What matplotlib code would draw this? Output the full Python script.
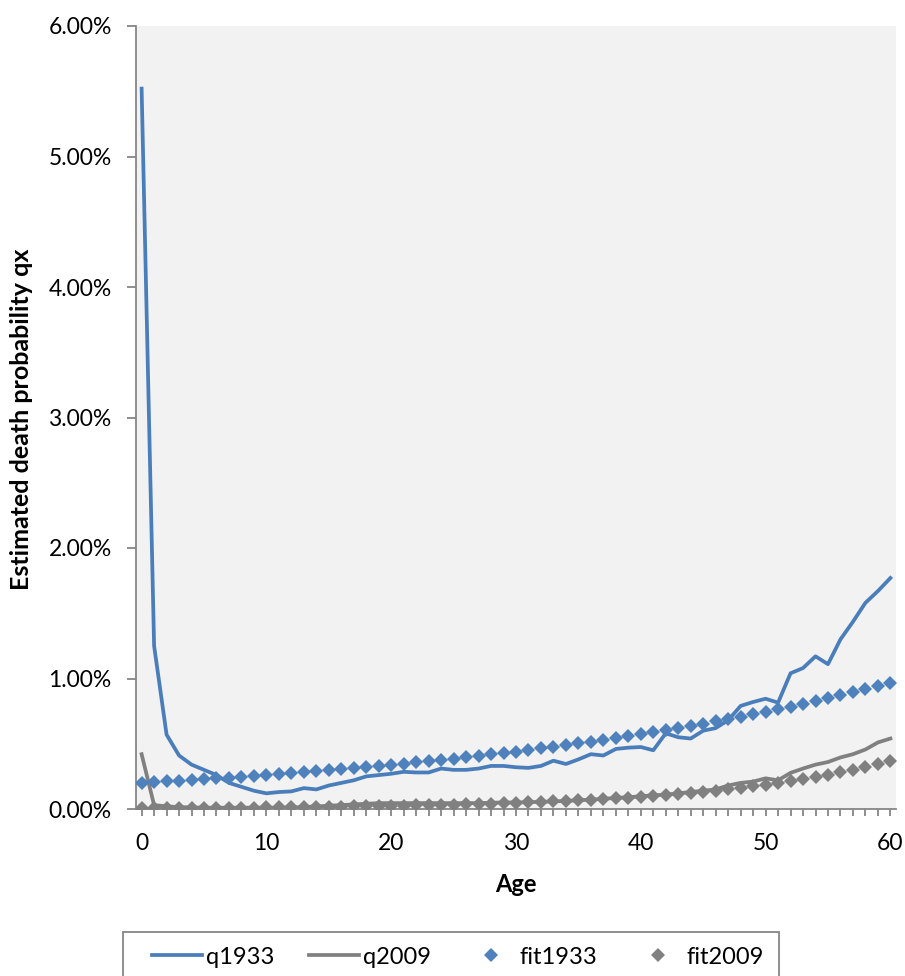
import matplotlib
matplotlib.use("Agg")
import matplotlib.pyplot as plt
from matplotlib.ticker import PercentFormatter, MultipleLocator, FuncFormatter
from matplotlib.lines import Line2D
from matplotlib.patches import Rectangle

plt.rcParams['font.family'] = ['Lato', 'DejaVu Sans']

ages = list(range(61))

q1933 = [5.52, 1.25, 0.57, 0.41, 0.34, 0.30, 0.26, 0.20, 0.17, 0.14,
         0.12, 0.13, 0.135, 0.16, 0.15, 0.18, 0.20, 0.22, 0.25, 0.26,
         0.27, 0.285, 0.28, 0.28, 0.31, 0.30, 0.30, 0.31, 0.33, 0.33,
         0.32, 0.315, 0.33, 0.37, 0.345, 0.38, 0.42, 0.41, 0.46, 0.47,
         0.475, 0.45, 0.58, 0.55, 0.54, 0.60, 0.62, 0.68, 0.79, 0.82,
         0.845, 0.815, 1.04, 1.08, 1.17, 1.11, 1.30, 1.435, 1.58, 1.67,
         1.77]

q2009 = [0.42, 0.03, 0.02, 0.015, 0.012, 0.010, 0.010, 0.010, 0.010, 0.010,
         0.010, 0.010, 0.012, 0.015, 0.020, 0.025, 0.030, 0.035, 0.040, 0.045,
         0.045, 0.045, 0.045, 0.045, 0.045, 0.045, 0.045, 0.045, 0.048, 0.050,
         0.050, 0.052, 0.055, 0.058, 0.062, 0.067, 0.072, 0.078, 0.085, 0.090,
         0.098, 0.105, 0.110, 0.120, 0.130, 0.140, 0.150, 0.180, 0.200, 0.210,
         0.235, 0.220, 0.277, 0.310, 0.340, 0.360, 0.395, 0.420, 0.456, 0.510,
         0.540]

fit1933 = [0.200, 0.205, 0.211, 0.216, 0.222, 0.228, 0.234, 0.240, 0.247, 0.253,
           0.260, 0.267, 0.274, 0.282, 0.289, 0.297, 0.305, 0.313, 0.321, 0.330,
           0.338, 0.347, 0.357, 0.366, 0.376, 0.386, 0.396, 0.407, 0.418, 0.429,
           0.440, 0.452, 0.464, 0.476, 0.489, 0.502, 0.515, 0.529, 0.543, 0.558,
           0.573, 0.588, 0.604, 0.620, 0.636, 0.653, 0.671, 0.688, 0.707, 0.726,
           0.745, 0.765, 0.785, 0.806, 0.828, 0.850, 0.872, 0.896, 0.919, 0.944,
           0.969]

fit2009 = [0.0060, 0.0064, 0.0069, 0.0074, 0.0079, 0.0085, 0.0091, 0.0097, 0.0104, 0.0111,
           0.0119, 0.0128, 0.0137, 0.0147, 0.0157, 0.0168, 0.0180, 0.0193, 0.0207, 0.0221,
           0.0237, 0.0254, 0.0272, 0.0291, 0.0312, 0.0334, 0.0358, 0.0384, 0.0411, 0.0440,
           0.0471, 0.0505, 0.0541, 0.0579, 0.0620, 0.0665, 0.0712, 0.0763, 0.0817, 0.0875,
           0.0937, 0.1004, 0.1075, 0.1152, 0.1234, 0.1321, 0.1415, 0.1516, 0.1624, 0.1739,
           0.1863, 0.1995, 0.2137, 0.2289, 0.2452, 0.2627, 0.2813, 0.3014, 0.3228, 0.3458,
           0.3703]

series_names = ['q1933', 'q2009', 'fit1933', 'fit2009']
x_label = 'Age'
y_label = 'Estimated death probability qx'

W, H = 905, 976
fig = plt.figure(figsize=(W / 100, H / 100), dpi=100)
ax = fig.add_axes([136 / W, 1 - 809 / H, 760 / W, 783 / H])
ax.set_facecolor('#F2F2F2')

blue_line = '#4A7EBB'
blue_mark = '#4F81BD'
gray = '#808080'
spine_c = '#868686'
LW = 2.7
MS = 6.8

ax.plot(ages, q1933, color=blue_line, lw=LW, solid_joinstyle='round', zorder=2)
ax.plot(ages, q2009, color=gray, lw=LW, solid_joinstyle='round', zorder=2)
ax.plot(ages, fit1933, ls='none', marker='D', ms=MS, color=blue_mark, mec=blue_mark, mew=0, zorder=3)
ax.plot(ages, fit2009, ls='none', marker='D', ms=MS, color=gray, mec=gray, mew=0, zorder=3)

ax.set_xlim(-0.45, 60.45)
ax.set_ylim(0, 6)
ax.yaxis.set_major_locator(MultipleLocator(1))
ax.yaxis.set_major_formatter(PercentFormatter(xmax=100, decimals=2))
ax.xaxis.set_major_locator(MultipleLocator(1))
ax.xaxis.set_major_formatter(FuncFormatter(lambda v, p: f"{int(round(v))}" if int(round(v)) % 10 == 0 else ""))

for s in ['top', 'right']:
    ax.spines[s].set_visible(False)
for s in ['left', 'bottom']:
    ax.spines[s].set_color(spine_c)
    ax.spines[s].set_linewidth(1.3)

ax.tick_params(axis='y', direction='out', length=6.5, width=1.3, color=spine_c,
               labelsize=16.5, pad=11, labelcolor='black')
ax.tick_params(axis='x', direction='out', length=5, width=1.3, color=spine_c,
               labelsize=16.5, pad=12, labelcolor='black')

fig.text(516 / W, 1 - 885 / H, x_label, ha='center', va='center',
         fontsize=17, fontweight='bold')
fig.text(22 / W, 1 - 419 / H, y_label, ha='center', va='center', rotation=90,
         fontsize=18, fontweight='bold')

# legend
fig.patches.append(Rectangle((123 / W, 1 - 990 / H), (779 - 123) / W, (990 - 932) / H,
                             transform=fig.transFigure, facecolor='white',
                             edgecolor=spine_c, lw=1.3))
handles = [Line2D([], [], color=blue_line, lw=LW),
           Line2D([], [], color=gray, lw=LW),
           Line2D([], [], ls='none', marker='D', ms=MS, mew=0, color=blue_mark),
           Line2D([], [], ls='none', marker='D', ms=MS, mew=0, color=gray)]
fig.legend(handles, series_names, loc='center left', bbox_to_anchor=(152 / W, 1 - 957 / H),
           ncol=4, frameon=False, fontsize=17, handlelength=2.1, handletextpad=0.17,
           columnspacing=1.5, borderaxespad=0, borderpad=0)

fig.savefig('out.png', dpi=100)
